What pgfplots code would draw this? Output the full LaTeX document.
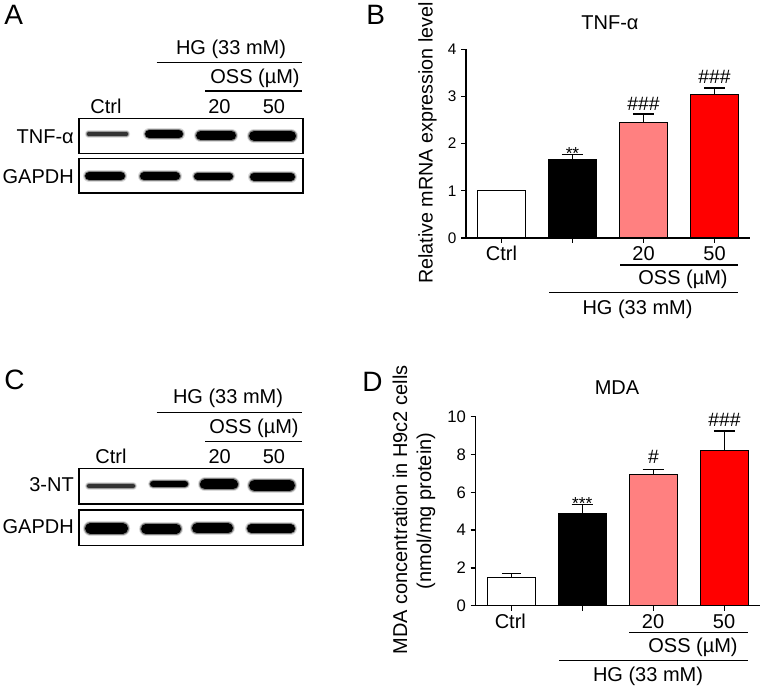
\documentclass[border=0pt]{standalone}
\usepackage{pgfplots}
\pgfplotsset{compat=1.18}
\usepackage{fontspec}
\setmainfont{Liberation Sans}
\definecolor{pinkbar}{RGB}{255,128,128}
\definecolor{redbar}{RGB}{255,0,0}

% one blot band: x left, x right, y (px), core thickness (pt), colour
\newcommand{\band}[5]{%
 \addplot[mark=none, draw=#5, draw opacity=0.15, line width={#4+3pt}, line cap=round] coordinates {(#1,#3) (#2,#3)};
 \addplot[mark=none, draw=#5, draw opacity=0.4, line width={#4+1.5pt}, line cap=round] coordinates {(#1,#3) (#2,#3)};
 \addplot[mark=none, draw=#5, line width=#4, line cap=round] coordinates {(#1,#3) (#2,#3)};
}

\pgfplotsset{
  blot/.style={anchor=south west, scale only axis, width=168pt,
    xmin=79, xmax=303, y dir=reverse, ticks=none,
    axis line style={line width=1pt}},
  barax/.style={anchor=south west, scale only axis,
    xmin=-0.5, xmax=3.5, ymin=0,
    axis x line=bottom, axis y line=left,
    axis line style={-, line width=1pt},
    tick align=outside, major tick length=3.75pt,
    tick style={line width=1pt, black},
    xtick={0,1,2,3}, xticklabels={},
    /pgf/number format/assume math mode=true,
    ybar, bar width=0.67, bar shift=0pt, clip=false},
  eb/.style={error bars/.cd, y dir=plus, y explicit,
    error bar style={line width=1pt},
    error mark options={rotate=90, mark size=#1, line width=1pt}},
}

\begin{document}
\begin{tikzpicture}[font=\fontsize{15}{17}\selectfont]
\begin{scope}[x=0.75pt,y=-0.75pt]
\path[use as bounding box] (0,0) rectangle (765,691);
% panel letters
\node[anchor=base west, inner sep=0, font=\fontsize{21}{24}\selectfont] at (4,25) {A};
\node[anchor=base west, inner sep=0, font=\fontsize{21}{24}\selectfont] at (366,24.5) {B};
\node[anchor=base west, inner sep=0, font=\fontsize{21}{24}\selectfont] at (4,390) {C};
\node[anchor=base west, inner sep=0, font=\fontsize{21}{24}\selectfont] at (362,392) {D};
% panel A headers
\node[anchor=base, inner sep=0] at (231,54.3) {HG (33 mM)};
\draw[line width=0.9pt] (156.7,62.3) -- (301.7,62.3);
\node[anchor=base, inner sep=0] at (255,83.3) {OSS (µM)};
\draw[line width=0.9pt] (205,91) -- (301.7,91);
\node[anchor=base, inner sep=0] at (106,114) {Ctrl};
\node[anchor=base, inner sep=0] at (219.5,114) {20};
\node[anchor=base, inner sep=0] at (274,114) {50};
\node[anchor=base east, inner sep=0] at (74,144) {TNF-α};
\node[anchor=base east, inner sep=0] at (74,183.3) {GAPDH};
% panel C headers
\node[anchor=base, inner sep=0] at (228,404) {HG (33 mM)};
\draw[line width=0.9pt] (156.7,412.3) -- (302.3,412.3);
\node[anchor=base, inner sep=0] at (254,433.3) {OSS (µM)};
\draw[line width=0.9pt] (205,441.7) -- (302.3,441.7);
\node[anchor=base, inner sep=0] at (111,463.3) {Ctrl};
\node[anchor=base, inner sep=0] at (219.7,463.3) {20};
\node[anchor=base, inner sep=0] at (274,463.3) {50};
\node[anchor=base east, inner sep=0] at (74,491.7) {3-NT};
\node[anchor=base east, inner sep=0] at (74,533.3) {GAPDH};
% panel B labels
\node[anchor=base, inner sep=0] at (610,30) {TNF-α};
\node[anchor=base, inner sep=0, rotate=90, font=\fontsize{14.8}{17}\selectfont] at (432.5,143) {Relative mRNA expression level};
\node[anchor=base, inner sep=0] at (501.5,260.7) {Ctrl};
\node[anchor=base, inner sep=0] at (643.5,260.7) {20};
\node[anchor=base, inner sep=0] at (714.5,260.7) {50};
\draw[line width=0.9pt] (620,265) -- (738,265);
\node[anchor=base, inner sep=0] at (683,285) {OSS (µM)};
\draw[line width=0.9pt] (549,292.5) -- (738,292.5);
\node[anchor=base, inner sep=0] at (637.5,315) {HG (33 mM)};
% panel D labels
\node[anchor=base, inner sep=0] at (617,395) {MDA};
\node[anchor=base, inner sep=0, rotate=90] at (407,510) {MDA concentration in H9c2 cells};
\node[anchor=base, inner sep=0, rotate=90] at (431,511) {(nmol/mg protein)};
\node[anchor=base, inner sep=0] at (510.3,628.3) {Ctrl};
\node[anchor=base, inner sep=0] at (653,628.3) {20};
\node[anchor=base, inner sep=0] at (724,628.3) {50};
\draw[line width=0.9pt] (629,632.7) -- (748,632.7);
\node[anchor=base, inner sep=0] at (693,652.7) {OSS (µM)};
\draw[line width=0.9pt] (559,660.7) -- (748,660.7);
\node[anchor=base, inner sep=0] at (648,681.7) {HG (33 mM)};
\end{scope}

% ---------- blots ----------
\begin{axis}[blot, at={(59.25pt,-115.125pt)}, height=26.4pt, ymin=118.3, ymax=153.5]
\band{88.5}{126.5}{134}{2.6pt}{black!80}
\band{149.3}{178.8}{134}{6.4pt}{black}
\band{200.8}{231.3}{135.5}{7.1pt}{black}
\band{254.3}{290.8}{136}{7.9pt}{black}
\end{axis}
\begin{axis}[blot, at={(59.25pt,-144.75pt)}, height=26.025pt, ymin=158.3, ymax=193]
\band{89.3}{120.8}{176}{6.4pt}{black}
\band{144}{176}{176.5}{6pt}{black}
\band{197.5}{229.5}{176.2}{5.25pt}{black}
\band{254}{291}{176.7}{6pt}{black}
\end{axis}
\begin{axis}[blot, at={(59.25pt,-378pt)}, height=26.775pt, ymin=468.3, ymax=504]
\band{89}{133}{486}{3.2pt}{black!80}
\band{153.3}{184.8}{484}{4.9pt}{black}
\band{205}{233}{484.5}{7.5pt}{black}
\band{254.5}{289.5}{485.5}{8.25pt}{black}
\end{axis}
\begin{axis}[blot, at={(59.25pt,-408.975pt)}, height=26.475pt, ymin=510, ymax=545.3]
\band{90.3}{122.8}{528.3}{7.9pt}{black}
\band{145.8}{176.3}{528.8}{7.1pt}{black}
\band{197}{228}{528.3}{7.5pt}{black}
\band{251.3}{290.8}{528.5}{6.4pt}{black}
\end{axis}

% ---------- panel B ----------
\begin{axis}[barax, at={(349.5pt,-178.5pt)}, width=213pt, height=141.525pt,
  ymax=4, ytick={0,1,2,3,4},
  yticklabel style={font=\fontsize{11.5}{13}\selectfont}]
\addplot[fill=white, draw=black, line width=0.8pt] coordinates {(0,1.0)};
\addplot[fill=black, draw=black, line width=0.8pt, eb=8pt]
  coordinates {(1,1.66) +- (0,0.11)};
\addplot[fill=pinkbar, draw=black, line width=0.8pt, eb=8pt]
  coordinates {(2,2.44) +- (0,0.19)};
\addplot[fill=redbar, draw=black, line width=0.8pt, eb=8pt]
  coordinates {(3,3.04) +- (0,0.14)};
\node[anchor=base, inner sep=0, font=\fontsize{13}{15}\selectfont] at (axis cs:1,1.77) [yshift=-4pt] {**};
\node[anchor=base, inner sep=0, font=\fontsize{14.5}{16}\selectfont] at (axis cs:2,2.63) [yshift=2.8pt] {\#\#\#};
\node[anchor=base, inner sep=0, font=\fontsize{14.5}{16}\selectfont] at (axis cs:3,3.18) [yshift=3.3pt] {\#\#\#};
\end{axis}

% ---------- panel D ----------
\begin{axis}[barax, at={(356.775pt,-454.275pt)}, width=213.225pt, height=141.75pt,
  ymax=10, ytick={0,2,4,6,8,10},
  yticklabel style={font=\fontsize{12.5}{14}\selectfont}]
\addplot[fill=white, draw=black, line width=0.8pt, eb=7pt]
  coordinates {(0,1.50) +- (0,0.19)};
\addplot[fill=black, draw=black, line width=0.8pt, eb=8pt]
  coordinates {(1,4.87) +- (0,0.49)};
\addplot[fill=pinkbar, draw=black, line width=0.8pt, eb=8pt]
  coordinates {(2,6.93) +- (0,0.28)};
\addplot[fill=redbar, draw=black, line width=0.8pt, eb=8pt]
  coordinates {(3,8.20) +- (0,1.04)};
\node[anchor=base, inner sep=0, font=\fontsize{13}{15}\selectfont] at (axis cs:1,5.36) [yshift=-3.5pt] {***};
\node[anchor=base, inner sep=0, font=\fontsize{14.5}{16}\selectfont] at (axis cs:2,7.21) [yshift=4.5pt] {\#};
\node[anchor=base, inner sep=0, font=\fontsize{14.5}{16}\selectfont] at (axis cs:3,9.24) [yshift=3.2pt] {\#\#\#};
\end{axis}
\end{tikzpicture}
\end{document}
